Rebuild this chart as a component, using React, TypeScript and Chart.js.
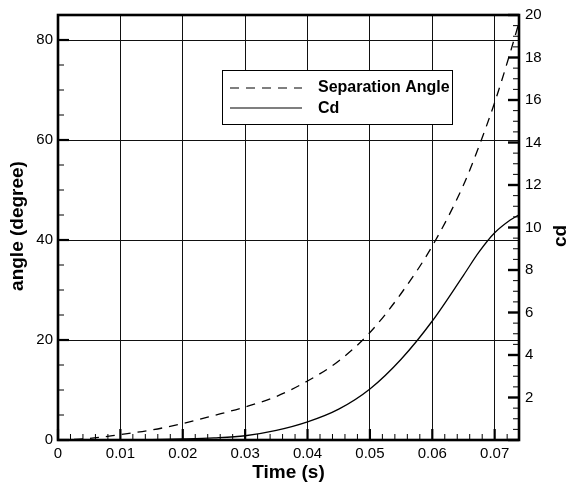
import React, { useEffect, useRef } from "react";
import { Chart, registerables } from "chart.js";

Chart.register(...registerables);

// ---- data ----
const timeValues = [0, 0.005, 0.01, 0.015, 0.02, 0.025, 0.03, 0.035, 0.04, 0.045, 0.05, 0.055, 0.06, 0.065, 0.0675, 0.07, 0.0725, 0.0739];
const angleValues = [0, 0.3, 1.1, 2.0, 3.3, 4.9, 6.6, 8.7, 11.8, 15.8, 21.5, 29.3, 38.8, 51, 58.8, 67.5, 77.5, 83.5];
const cdValues = [0, 0, 0, 0.02, 0.05, 0.1, 0.2, 0.45, 0.85, 1.45, 2.4, 3.8, 5.6, 7.75, 8.85, 9.75, 10.35, 10.6];

const xTickValues = [0, 0.01, 0.02, 0.03, 0.04, 0.05, 0.06, 0.07];
const angleTickValues = [0, 20, 40, 60, 80];
const cdTickValues = [2, 4, 6, 8, 10, 12, 14, 16, 18, 20];

const seriesLabels = ["Separation Angle", "Cd"];
const xTitle = "Time (s)";
const leftTitle = "angle (degree)";
const rightTitle = "cd";

const FONT = '"Liberation Sans", Arial, Helvetica, sans-serif';
const DASH = [9, 7];

const decorPlugin = {
  id: "decor",
  afterDatasetsDraw(chart: any) {
    const { ctx, chartArea: a, scales } = chart;
    const xs = scales.x;
    const yl = scales.yAngle;
    const yr = scales.yCd;
    ctx.save();
    ctx.strokeStyle = "#000";
    const line = (x1: number, y1: number, x2: number, y2: number, w: number) => {
      ctx.lineWidth = w;
      ctx.beginPath();
      ctx.moveTo(x1, y1);
      ctx.lineTo(x2, y2);
      ctx.stroke();
    };
    // x ticks (inward), minor every 0.002
    for (let i = 0; i * 0.002 <= xs.max + 1e-9; i++) {
      const px = xs.getPixelForValue(i * 0.002);
      const major = i % 5 === 0;
      line(px, a.bottom, px, a.bottom - (major ? 11 : 6), major ? 2.2 : 1);
    }
    // left ticks, minor every 5
    for (let i = 0; i * 5 <= yl.max + 1e-9; i++) {
      const py = yl.getPixelForValue(i * 5);
      const major = i % 4 === 0;
      line(a.left, py, a.left + (major ? 11 : 6), py, major ? 2.2 : 1);
    }
    // right ticks, minor every 0.5
    for (let i = 0; i * 0.5 <= yr.max + 1e-9; i++) {
      const py = yr.getPixelForValue(i * 0.5);
      const major = i % 4 === 0;
      line(a.right, py, a.right - (major ? 11 : 6), py, major ? 2.4 : 1);
    }

    // legend box
    const bx = 222, by = 70, bw = 230, bh = 54;
    ctx.fillStyle = "#fff";
    ctx.fillRect(bx, by, bw, bh);
    ctx.lineWidth = 1;
    ctx.strokeRect(bx + 0.5, by + 0.5, bw, bh);
    ctx.lineWidth = 1.2;
    ctx.setLineDash(DASH);
    ctx.beginPath();
    ctx.moveTo(230, 88);
    ctx.lineTo(302, 88);
    ctx.stroke();
    ctx.setLineDash([]);
    ctx.beginPath();
    ctx.moveTo(230, 108);
    ctx.lineTo(302, 108);
    ctx.stroke();
    ctx.fillStyle = "#000";
    ctx.font = `bold 16px ${FONT}`;
    ctx.textAlign = "left";
    ctx.textBaseline = "middle";
    ctx.fillText(chart.data.datasets[0].label, 318, 88);
    ctx.fillText(chart.data.datasets[1].label, 318, 109);

    // frame
    ctx.lineWidth = 2.6;
    ctx.strokeRect(a.left, a.top, a.right - a.left, a.bottom - a.top);

    // axis titles
    ctx.font = `bold 19px ${FONT}`;
    ctx.textAlign = "center";
    ctx.textBaseline = "middle";
    ctx.fillText(xTitle, (a.left + a.right) / 2, 473);
    ctx.save();
    ctx.translate(18, 226);
    ctx.rotate(-Math.PI / 2);
    ctx.fillText(leftTitle, 0, 0);
    ctx.restore();
    ctx.save();
    ctx.translate(561, 236);
    ctx.rotate(-Math.PI / 2);
    ctx.fillText(rightTitle, 0, 0);
    ctx.restore();
    ctx.restore();
  },
};

export default function App() {
  const ref = useRef<HTMLCanvasElement>(null);
  useEffect(() => {
    if (!ref.current) return;
    const tickFont = { family: FONT, size: 15 };
    const chart = new Chart(ref.current, {
      type: "line",
      data: {
        datasets: [
          {
            label: seriesLabels[0],
            data: timeValues.map((t, i) => ({ x: t, y: angleValues[i] })),
            yAxisID: "yAngle",
            borderColor: "#000",
            borderWidth: 1.3,
            borderDash: DASH,
            pointRadius: 0,
            cubicInterpolationMode: "monotone",
            fill: false,
          },
          {
            label: seriesLabels[1],
            data: timeValues.map((t, i) => ({ x: t, y: cdValues[i] })),
            yAxisID: "yCd",
            borderColor: "#000",
            borderWidth: 1.3,
            pointRadius: 0,
            cubicInterpolationMode: "monotone",
            fill: false,
          },
        ],
      },
      options: {
        animation: false,
        responsive: false,
        devicePixelRatio: 1,
        layout: { padding: { top: 11, left: 0, right: 0, bottom: 0 } },
        plugins: { legend: { display: false }, tooltip: { enabled: false } },
        scales: {
          x: {
            type: "linear",
            min: 0,
            max: 0.0739,
            afterFit: (s: any) => {
              s.height = 44;
            },
            afterBuildTicks: (s: any) => {
              s.ticks = xTickValues.map((v) => ({ value: v }));
            },
            border: { display: false },
            grid: { color: "#111", lineWidth: 1, drawTicks: false },
            ticks: {
              color: "#000",
              font: tickFont,
              padding: 5,
              autoSkip: false,
              maxRotation: 0,
              callback: (v: any) => String(v),
            },
          },
          yAngle: {
            type: "linear",
            position: "left",
            min: 0,
            max: 85,
            afterFit: (s: any) => {
              s.width = 58;
            },
            afterBuildTicks: (s: any) => {
              s.ticks = angleTickValues.map((v) => ({ value: v }));
            },
            border: { display: false },
            grid: { color: "#111", lineWidth: 1, drawTicks: false },
            ticks: { color: "#000", font: tickFont, padding: 5, autoSkip: false, callback: (v: any) => String(v) },
          },
          yCd: {
            type: "linear",
            position: "right",
            min: 0,
            max: 20,
            afterFit: (s: any) => {
              s.width = 54;
            },
            afterBuildTicks: (s: any) => {
              s.ticks = cdTickValues.map((v) => ({ value: v }));
            },
            border: { display: false },
            grid: { display: false, drawTicks: false },
            ticks: { color: "#000", font: tickFont, padding: 6, autoSkip: false, callback: (v: any) => String(v) },
          },
        },
      },
      plugins: [decorPlugin],
    } as any);
    return () => chart.destroy();
  }, []);
  return (
    <div style={{ position: "absolute", left: 0, top: 0, width: 573, height: 484, background: "#fff" }}>
      <canvas ref={ref} width={573} height={484} style={{ display: "block" }} />
    </div>
  );
}
